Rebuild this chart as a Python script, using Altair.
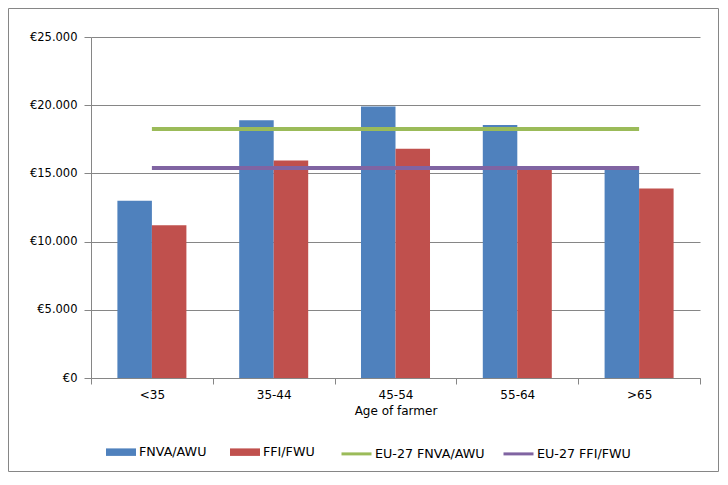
import altair as alt
import pandas as pd

categories = ["<35", "35-44", "45-54", "55-64", ">65"]
fnva_awu = [13000, 18900, 19900, 18550, 15500]
ffi_fwu = [11200, 15950, 16800, 15500, 13900]
eu27_fnva_awu = 18250
eu27_ffi_fwu = 15400

bar_series = ["FNVA/AWU", "FFI/FWU"]
line_series = ["EU-27 FNVA/AWU", "EU-27 FFI/FWU"]
bar_colors = ["#4F81BD", "#C0504D"]
line_colors = ["#9BBB59", "#8064A2"]
y_ticks = [0, 5000, 10000, 15000, 20000, 25000]

FONT = "DejaVu Sans"
GREY = "#868686"

bars_df = pd.DataFrame({
    "age": categories * 2,
    "series": [bar_series[0]] * len(categories) + [bar_series[1]] * len(categories),
    "value": fnva_awu + ffi_fwu,
})
lines_df = pd.DataFrame({
    "age": categories * 2,
    "series": [line_series[0]] * len(categories) + [line_series[1]] * len(categories),
    "value": [eu27_fnva_awu] * len(categories) + [eu27_ffi_fwu] * len(categories),
})

x_enc = alt.X(
    "age:N", sort=categories,
    scale=alt.Scale(paddingInner=0, paddingOuter=0),
    axis=alt.Axis(title="Age of farmer", tickBand="extent", labelAngle=0,
                  domainColor=GREY, tickColor=GREY, tickSize=6,
                  labelFontSize=12, titleFontSize=12,
                  labelPadding=5, titlePadding=5, grid=False),
)
y_enc = alt.Y(
    "value:Q",
    scale=alt.Scale(domain=[0, 25000], nice=False),
    axis=alt.Axis(title=None, values=y_ticks, grid=True, gridColor=GREY,
                  domainColor=GREY, tickColor=GREY, tickSize=7, labelPadding=7,
                  labelFontSize=11.5,
                  labelExpr="'€' + replace(format(datum.value, ','), ',', '.')"),
)

bars = alt.Chart(bars_df).mark_bar().encode(
    x=x_enc,
    y=y_enc,
    xOffset=alt.XOffset("series:N", sort=bar_series,
                        scale=alt.Scale(paddingInner=0, paddingOuter=0.765)),
    color=alt.Color("series:N", sort=bar_series,
                    scale=alt.Scale(domain=bar_series, range=bar_colors),
                    legend=alt.Legend(title=None, orient="none", direction="horizontal",
                                      legendX=15, legendY=400,
                                      symbolType="M-1,-0.25H1V0.25H-1Z", symbolSize=900,
                                      symbolStrokeWidth=0, symbolOpacity=1,
                                      labelOffset=3, columnPadding=23)),
)

lines = alt.Chart(lines_df).mark_line(strokeWidth=4).encode(
    x=alt.X("age:N", sort=categories),
    y=alt.Y("value:Q"),
    color=alt.Color("series:N", sort=line_series,
                    scale=alt.Scale(domain=line_series, range=line_colors),
                    legend=alt.Legend(title=None, orient="none", direction="horizontal",
                                      legendX=249, legendY=400,
                                      symbolType="stroke", symbolSize=900,
                                      symbolStrokeWidth=3, labelOffset=2,
                                      columnPadding=12)),
)

frame = alt.Chart(pd.DataFrame({"k": [0]})).mark_rect(
    filled=False, stroke=GREY, strokeWidth=1
).encode(
    x=alt.value(-82.5), x2=alt.value(627.5),
    y=alt.value(-28.5), y2=alt.value(434.5),
)

chart = alt.layer(bars, lines, frame).resolve_scale(color="independent").properties(
    width=609, height=341,
    padding={"left": 83, "top": 29, "right": 20, "bottom": 105},
    autosize=alt.AutoSizeParams(type="none"),
).configure_view(stroke=None).configure_axis(
    labelFont=FONT, titleFont=FONT,
    labelColor="#000000", titleColor="#000000", titleFontWeight="normal",
).configure_legend(
    labelFont=FONT, labelFontSize=12.7, labelColor="#000000",
)

chart.save("out.html", embed_options={"renderer": "svg", "actions": False})
